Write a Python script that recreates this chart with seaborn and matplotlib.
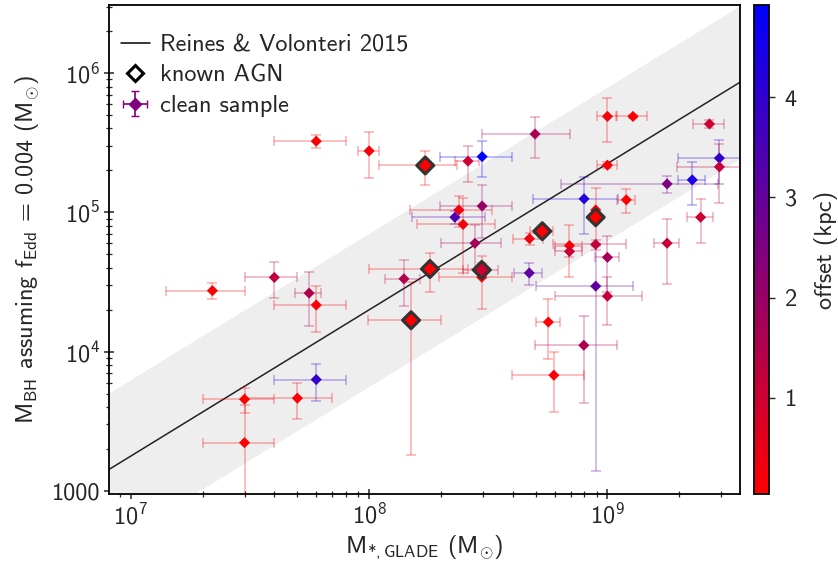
import numpy as np
import pandas as pd
import matplotlib
matplotlib.use("Agg")
import matplotlib.pyplot as plt
from matplotlib.colors import LinearSegmentedColormap, Normalize
from matplotlib.lines import Line2D
from matplotlib.ticker import FixedLocator, FixedFormatter, LogLocator, NullFormatter
import seaborn as sns

# ---------------- data ----------------
mstar = [2.2e7, 4.0e7, 5.6e7, 6.0e7, 6.0e7, 5.0e7, 3.0e7, 3.0e7, 6.0e7, 1.0e8,
         1.72e8, 2.6e8, 2.98e8, 4.97e8, 1.0e9, 1.28e9, 2.68e9, 2.95e9, 2.95e9, 1.78e9,
         2.27e9, 1.0e9, 7.98e8, 1.2e9, 8.93e8, 8.93e8, 2.46e9, 2.38e8, 2.98e8, 2.29e8,
         2.48e8, 2.78e8, 5.33e8, 4.71e8, 6.93e8, 6.93e8, 8.93e8, 1.0e9, 8.93e8, 1.0e9,
         1.78e9, 1.8e8, 1.4e8, 2.97e8, 2.97e8, 4.7e8, 1.5e8, 5.65e8, 7.96e8, 5.96e8]
mstar_err = [0.8e7, 1.0e7, 0.7e7, 2.0e7, 2.0e7, 2.0e7, 1.0e7, 1.0e7, 2.0e7, 0.1e8,
             0.62e8, 0.3e8, 1.0e8, 2.0e8, 0.1e9, 0.19e9, 0.39e9, 0.98e9, 1.0e9, 1.14e9,
             0.3e9, 0.1e9, 3.1e8, 0.1e9, 0.05e8, 0.3e8, 0.3e9, 0.89e8, 1.0e8, 0.78e8,
             0.89e8, 0.78e8, 0.6e8, 0.68e8, 0.9e8, 0.9e8, 3.0e8, 0.115e9, 3.9e8, 0.395e9,
             0.21e9, 0.8e8, 0.23e8, 0.5e8, 1.0e8, 0.63e8, 0.51e8, 0.65e8, 3.0e8, 2.0e8]
mbh = [2.74e4, 3.41e4, 2.63e4, 2.16e4, 6.3e3, 4.63e3, 4.55e3, 2.22e3, 3.24e5, 2.76e5,
       2.17e5, 2.33e5, 2.51e5, 3.65e5, 4.88e5, 4.88e5, 4.31e5, 2.45e5, 2.12e5, 1.6e5,
       1.71e5, 2.18e5, 1.25e5, 1.23e5, 1.04e5, 9.22e4, 9.22e4, 1.04e5, 1.11e5, 9.22e4,
       8.19e4, 6.0e4, 7.32e4, 6.47e4, 5.77e4, 5.24e4, 5.88e4, 4.75e4, 2.95e4, 2.5e4,
       6.0e4, 3.92e4, 3.33e4, 3.86e4, 3.42e4, 3.67e4, 1.68e4, 1.63e4, 1.11e4, 6.77e3]
mbh_err = [0.36e4, 1.0e4, 1.1e4, 0.78e4, 1.85e3, 1.36e3, 0.91e3, 1.9e3, 0.34e5, 1.0e5,
           0.6e5, 0.68e5, 0.73e5, 1.2e5, 1.7e5, 0.1e5, 0.3e5, 0.86e5, 0.96e5, 0.23e5,
           0.58e5, 0.1e5, 0.55e5, 0.24e5, 0.45e5, 0.5e4, 3.2e4, 0.26e5, 0.46e5, 0.1e5,
           4.5e4, 2.1e4, 0.7e4, 0.64e4, 2.35e4, 0.5e4, 0.5e4, 2.05e4, 2.81e4, 0.95e4,
           2.96e4, 1.22e4, 1.22e4, 0.5e4, 1.4e4, 0.64e4, 1.5e4, 0.74e4, 0.68e4, 3.1e3]
offset_kpc = [0.1, 1.2, 1.5, 0.1, 3.9, 0.1, 0.05, 0.05, 0.15, 0.2,
              0.1, 1.0, 4.92, 1.6, 0.2, 0.1, 1.0, 4.0, 1.2, 2.5,
              4.4, 0.2, 4.3, 0.1, 0.1, 0.05, 1.0, 0.3, 2.0, 3.4,
              0.3, 1.8, 0.1, 0.3, 0.1, 1.0, 1.2, 1.7, 3.1, 1.2,
              1.1, 0.1, 1.5, 1.0, 0.1, 3.1, 0.1, 0.1, 1.6, 0.1]
known_agn = [0, 0, 0, 0, 0, 0, 0, 0, 0, 0,
             1, 0, 0, 0, 0, 0, 0, 0, 0, 0,
             0, 0, 0, 0, 0, 1, 0, 0, 0, 0,
             0, 0, 1, 0, 0, 0, 0, 0, 0, 0,
             0, 1, 0, 1, 0, 0, 1, 0, 0, 0]

# Reines & Volonteri 2015 relation: log M_BH = a + b log(M*/1e11), scatter
rv_intercept, rv_slope, rv_scatter = 7.45, 1.05, 0.55

xlim = (8.1e6, 3.6e9)
ylim = (950, 3.08e6)
offset_range = (0.04, 4.92)

# ---------------- style ----------------
sns.set_style("ticks")
plt.rcParams.update({
    "font.family": ["cmss10", "DejaVu Sans"],
    "mathtext.fontset": "custom",
    "mathtext.rm": "cmss10",
    "mathtext.it": "cmss10",
    "mathtext.bf": "cmss10",
    "mathtext.sf": "cmss10",
    "mathtext.fallback": "cm",
    "axes.unicode_minus": False,
    "axes.formatter.use_mathtext": True,
    "axes.linewidth": 1.3,
    "axes.edgecolor": "black",
})
FS = 17.5

df = pd.DataFrame({"mstar": mstar, "mstar_err": mstar_err, "mbh": mbh,
                   "mbh_err": mbh_err, "offset": offset_kpc,
                   "agn": np.array(known_agn, dtype=bool)})

cmap = LinearSegmentedColormap.from_list("redblue", ["#ff0000", "#0000ff"])
norm = Normalize(vmin=offset_range[0], vmax=offset_range[1])

fig = plt.figure(figsize=(8.38, 5.67), dpi=100)
ax = fig.add_axes([109 / 838, 1 - 494 / 567, (740 - 109) / 838, (494 - 5) / 567])
cax = fig.add_axes([754 / 838, 1 - 494 / 567, 15 / 838, (494 - 5) / 567])

ax.set_xscale("log")
ax.set_yscale("log")
ax.set_xlim(*xlim)
ax.set_ylim(*ylim)

# relation and scatter band
xx = np.logspace(np.log10(xlim[0]), np.log10(xlim[1]), 50)
yy = rv_intercept + rv_slope * np.log10(xx / 1e11)
ax.fill_between(xx, 10 ** (yy - rv_scatter), 10 ** (yy + rv_scatter),
                color="#eeeeee", lw=0, zorder=1)
ax.plot(xx, 10 ** yy, color="#222222", lw=1.1, zorder=2)

# error bars
for _, r in df.iterrows():
    c = cmap(norm(r["offset"]))
    ax.errorbar(r["mstar"], r["mbh"], xerr=r["mstar_err"], yerr=r["mbh_err"],
                fmt="none", ecolor=(c[0], c[1], c[2], 0.3), elinewidth=1.2,
                capsize=3.5, capthick=1.2, zorder=3)

# points
sns.scatterplot(data=df[~df["agn"]], x="mstar", y="mbh", hue="offset",
                palette=cmap, hue_norm=norm, marker="D", s=32, linewidth=0,
                legend=False, ax=ax, zorder=4)
sns.scatterplot(data=df[df["agn"]], x="mstar", y="mbh", hue="offset",
                palette=cmap, hue_norm=norm, marker="D", s=75, linewidth=2.2,
                edgecolor="#333333", legend=False, ax=ax, zorder=5)

# ticks
ax.xaxis.set_major_locator(FixedLocator([1e7, 1e8, 1e9]))
ax.xaxis.set_minor_locator(LogLocator(base=10, subs=np.arange(2, 10)))
ax.xaxis.set_minor_formatter(NullFormatter())
ax.yaxis.set_major_locator(FixedLocator([1e3, 1e4, 1e5, 1e6]))
ax.yaxis.set_major_formatter(FixedFormatter(["1000", r"$\mathdefault{10^{4}}$",
                                             r"$\mathdefault{10^{5}}$", r"$\mathdefault{10^{6}}$"]))
ax.yaxis.set_minor_locator(LogLocator(base=10, subs=np.arange(2, 10)))
ax.yaxis.set_minor_formatter(NullFormatter())
ax.tick_params(which="major", direction="inout", length=7, width=1.1, labelsize=FS,
               top=False, right=False, pad=3)
ax.tick_params(which="minor", direction="inout", length=4, width=0.9,
               top=False, right=False)

ax.set_xlabel(r"M$_{*,\mathrm{GLADE}}$ (M$_{\odot}$)", fontsize=FS, labelpad=3)
ax.set_ylabel(r"M$_{\mathrm{BH}}$ assuming f$_{\mathrm{Edd}}$ = 0.004 (M$_{\odot}$)",
              fontsize=FS, labelpad=7)

# colorbar
sm = plt.cm.ScalarMappable(norm=norm, cmap=cmap)
cb = fig.colorbar(sm, cax=cax)
cb.set_ticks([1, 2, 3, 4])
cb.ax.tick_params(labelsize=FS, length=4, width=1, pad=7)
cb.outline.set_linewidth(1.3)
cb.set_label("offset (kpc)", fontsize=FS, labelpad=12)

# legend
h_line = Line2D([], [], color="black", lw=1.1)
h_agn = Line2D([], [], marker="D", ls="none", mfc="none", mec="black", mew=2.2, ms=8)
h_clean = ax.errorbar([np.nan], [np.nan], xerr=[1], yerr=[1], fmt="D", color="purple",
                      ms=6, capsize=3, elinewidth=1.2)
ax.legend([h_line, h_agn, h_clean], ["Reines & Volonteri 2015", "known AGN", "clean sample"],
          loc="upper left", bbox_to_anchor=(0.003, 0.9605), frameon=False, fontsize=FS,
          handlelength=1.2, handletextpad=0.4, borderaxespad=0, labelspacing=0.35)

fig.savefig("out.png", dpi=100)
